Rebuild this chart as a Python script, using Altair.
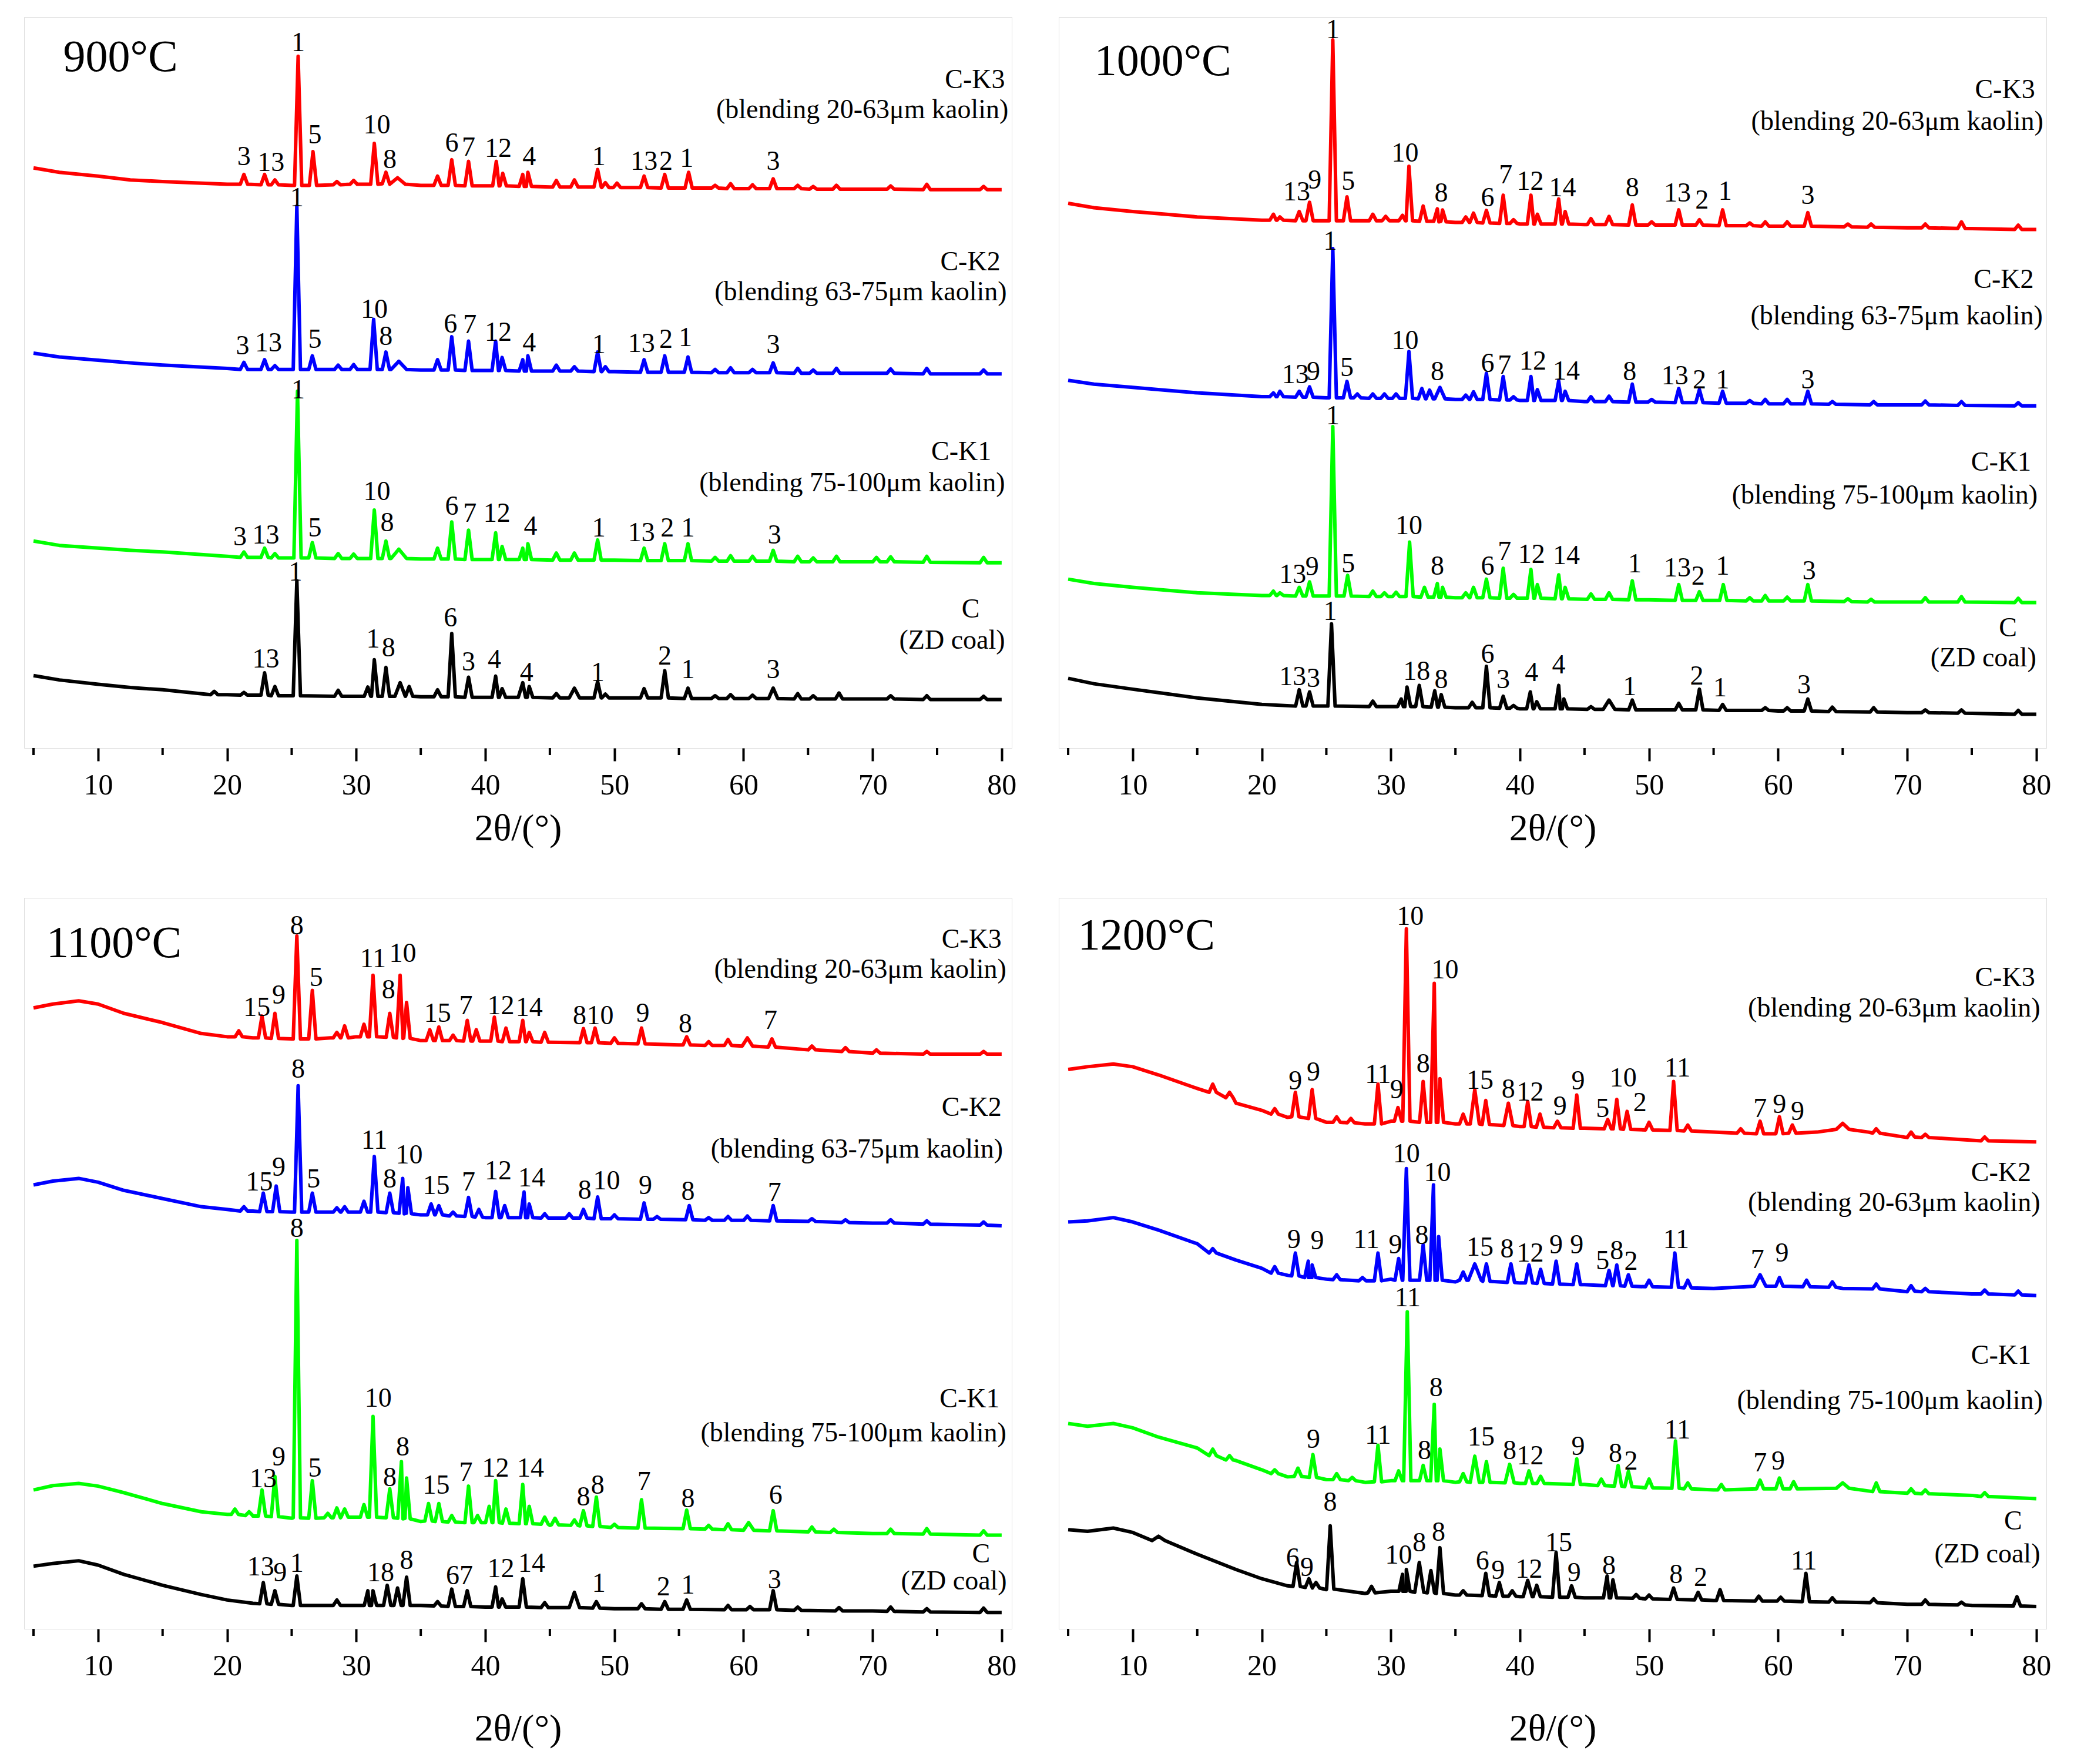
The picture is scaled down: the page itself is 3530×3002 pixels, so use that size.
import altair as alt
import pandas as pd

# ---------------- common ----------------
X_DOMAIN = [4.27, 80.78]
Y_DOMAIN = [0, 1342]
MAJOR_TICKS = [10, 20, 30, 40, 50, 60, 70, 80]
MINOR_TICKS = [5, 15, 25, 35, 45, 55, 65, 75]
SERIES = ["C", "C-K1", "C-K2", "C-K3"]
COLORS = ["#000000", "#00ff00", "#0000ff", "#ff0000"]
X_TITLE = "2θ/(°)"

# ---------------- 900 °C ----------------
BASE_900_CK3 = [(5,1065),(7,1057),(10,1050),(12.5,1043),(15,1040),(20,1035),(25,1033),(30,1035),(35,1033),(40,1032),(45,1030),(50,1029),(55,1028),(60,1027),(70,1026),(80,1025)]
PEAK_900_CK3 = [(21.3,1035,1053),(22.9,1034,1053),(23.7,1034,1043),(25.5,1033,1270),(26.65,1033,1095),(28.5,1034,1040),(29.8,1035,1042),(31.4,1035,1110),(32.3,1036,1057),(33.2,1035,1047,0.6),(36.3,1033,1050),(37.4,1033,1080),(38.7,1032,1077),(40.85,1032,1077),(41.35,1032,1055),(42.9,1031,1053),(43.3,1031,1057),(45.5,1030,1042),(46.9,1030,1043),(48.7,1030,1062),(49.3,1029,1038),(50.2,1029,1037),(52.3,1029,1050),(53.9,1028,1053),(55.75,1028,1057),(57.8,1028,1033),(59.0,1027,1036),(60.7,1027,1034),(62.3,1027,1045),(64.2,1027,1033),(65.4,1026,1031),(67.2,1026,1033),(71.4,1026,1032),(74.2,1025,1035),(78.6,1025,1031)]
LAB_900_CK3 = [(21.3,1085,"3"),(23.4,1075,"13"),(25.5,1295,"1"),(26.8,1125,"5"),(31.6,1143,"10"),(32.6,1080,"8"),(37.4,1110,"6"),(38.7,1103,"7"),(41.0,1100,"12"),(43.4,1085,"4"),(48.8,1085,"1"),(52.3,1077,"13"),(54.0,1077,"2"),(55.6,1082,"1"),(62.3,1077,"3")]

BASE_900_CK2 = [(5,725),(7,718),(10,712),(12.5,707),(15,703),(20,697),(25,695),(30,695),(35,694),(40,693),(45,692),(50,691),(60,689),(70,688),(80,687)]
PEAK_900_CK2 = [(21.3,695,708),(22.9,695,713),(23.7,695,702),(25.4,695,995),(26.6,695,720),(28.6,695,703),(29.8,695,704),(31.35,695,787),(32.3,695,727),(33.3,695,710,0.6),(36.3,694,713),(37.4,694,755),(38.7,693,747),(40.8,693,747),(41.3,693,717),(42.9,692,713),(43.3,692,720),(45.5,692,703),(46.9,692,700),(48.7,691,727),(49.3,691,700),(52.3,690,713),(53.9,690,720),(55.7,690,718),(57.8,689,695),(59.0,689,698),(60.7,689,695),(62.3,689,707),(64.2,688,697),(65.4,688,694),(67.2,688,697),(71.4,688,696),(74.2,687,697),(78.6,687,694)]
LAB_900_CK2 = [(21.2,738,"3"),(23.2,743,"13"),(25.4,1010,"1"),(26.8,750,"5"),(31.4,805,"10"),(32.3,755,"8"),(37.3,778,"6"),(38.8,777,"7"),(41.0,763,"12"),(43.4,743,"4"),(48.8,740,"1"),(52.1,742,"13"),(54.0,750,"2"),(55.5,753,"1"),(62.3,740,"3")]

BASE_900_CK1 = [(5,380),(7,372),(10,367),(12.5,363),(15,360),(20,352),(25,349),(30,348),(35,347),(40,346),(50,345),(60,343),(70,342),(80,340)]
PEAK_900_CK1 = [(21.3,350,360),(22.9,350,367),(23.7,349,357),(25.45,349,655),(26.6,349,377),(28.6,348,357),(29.8,348,356),(31.4,348,437),(32.3,348,380),(33.3,348,365,0.6),(36.3,347,367),(37.4,347,415),(38.7,346,400),(40.8,346,395),(41.3,346,370),(42.9,346,367),(43.3,346,375),(45.5,345,358),(46.9,345,358),(48.7,345,382),(52.3,344,367),(53.9,344,375),(55.7,344,375),(57.8,343,350),(59.0,343,353),(60.7,343,352),(62.3,343,363),(64.2,342,352),(65.4,342,349),(67.2,342,352),(70.3,342,350),(71.4,342,351),(74.2,341,352),(78.6,340,350)]
LAB_900_CK1 = [(21.0,387,"3"),(23.0,390,"13"),(25.5,657,"1"),(26.8,403,"5"),(31.6,470,"10"),(32.4,413,"8"),(37.4,443,"6"),(38.8,430,"7"),(40.9,430,"12"),(43.5,407,"4"),(48.8,403,"1"),(52.1,395,"13"),(54.1,403,"2"),(55.7,403,"1"),(62.4,390,"3")]

BASE_900_C = [(5,133),(7,125),(10,117),(12.5,111),(15,107),(20,98),(25,96),(30,95),(35,94),(40,93),(50,92),(60,91),(70,90),(80,89)]
PEAK_900_C = [(19.0,98,104),(21.3,97,102),(22.9,97,138),(23.7,96,113),(25.4,96,307),(28.6,95,106),(30.9,95,112),(31.4,95,162),(32.3,95,148),(33.4,95,120,0.4),(34.1,95,113),(36.3,94,107),(37.4,94,210),(38.7,93,130),(40.8,93,132),(41.3,93,109),(42.9,93,120,0.35),(43.4,93,113),(45.5,92,100),(46.9,92,110,0.4),(48.7,92,122),(49.3,92,99),(52.3,92,109),(53.9,92,142),(55.7,91,110),(57.8,91,96),(59.0,91,98),(60.7,91,97),(62.3,91,110,0.35),(64.2,90,100),(65.4,90,96),(67.4,90,101),(71.4,90,96),(74.2,89,96),(78.6,89,95)]
LAB_900_C = [(23.0,163,"13"),(25.3,323,"1"),(31.3,200,"1"),(32.5,183,"8"),(37.3,238,"6"),(38.7,158,"3"),(40.7,162,"4"),(43.2,138,"4"),(48.7,138,"1"),(53.9,168,"2"),(55.7,143,"1"),(62.3,143,"3")]

SER_900 = [(80.26,1227,"C-K3"),(80.52,1172,"(blending 20-63μm kaolin)"),(79.9,892,"C-K2"),(80.4,837,"(blending 63-75μm kaolin)"),(79.2,544,"C-K1"),(80.26,486,"(blending 75-100μm kaolin)"),(78.3,255,"C"),(80.26,197,"(ZD coal)")]
TITLE_900 = [(7.3,1268,"900°C")]

# ---------------- 1000 °C ----------------
BASE_1000_CK3 = [(5,1000),(7,992),(10,985),(12.5,980),(15,975),(20,969),(25,968),(30,968),(35,965),(40,962),(45,961),(50,960),(60,958),(70,955),(80,952)]
PEAK_1000_CK3 = [(20.9,969,980),(21.4,969,975),(22.9,968,985),(23.7,968,1002),(25.5,968,1300),(26.6,968,1012),(28.6,968,980),(29.6,968,976),(30.9,968,978),(31.4,968,1068),(32.5,967,995),(33.6,967,990),(34.0,966,988),(35.8,965,975),(36.4,965,982),(37.4,964,987),(38.7,963,1015),(39.5,963,970),(40.85,962,1015),(41.35,962,980),(43.0,962,1008),(43.5,962,985),(45.5,961,972),(46.9,961,976),(48.7,960,997),(50.2,960,966),(52.3,960,988),(53.9,960,970),(55.7,959,988),(57.8,959,964),(59.0,958,966),(60.7,958,966),(62.3,958,983),(65.4,957,962),(67.2,956,962),(71.4,955,962),(74.2,954,966),(78.6,952,960)]
LAB_1000_CK3 = [(22.7,1020,"13"),(24.1,1042,"9"),(25.5,1318,"1"),(26.7,1040,"5"),(31.1,1092,"10"),(33.9,1018,"8"),(37.5,1010,"6"),(38.9,1052,"7"),(40.8,1040,"12"),(43.3,1028,"14"),(48.7,1028,"8"),(52.2,1018,"13"),(54.1,1005,"2"),(55.9,1022,"1"),(62.3,1014,"3")]

BASE_1000_CK2 = [(5,675),(7,668),(10,662),(12.5,657),(15,652),(20,645),(25,643),(30,642),(35,640),(40,638),(45,636),(50,635),(60,632),(70,630),(80,628)]
PEAK_1000_CK2 = [(20.9,645,652),(21.4,645,655),(22.9,644,655),(23.7,644,663),(25.5,643,917),(26.6,643,673),(27.4,643,650),(28.6,642,650),(29.5,642,650),(30.4,642,650),(31.4,642,728),(32.4,641,660),(33.0,641,657),(33.8,641,662,0.4),(35.8,640,648),(36.4,640,654),(37.4,640,688),(38.7,639,682),(39.5,639,645),(40.85,638,682),(41.35,638,658),(43.0,638,674),(43.5,638,655),(45.5,636,645),(46.9,636,646),(48.7,635,668),(50.2,635,640),(52.3,634,660),(53.9,634,658),(55.7,633,655),(57.8,633,638),(59.0,632,640),(60.7,632,640),(62.3,632,655),(64.2,631,636),(67.4,630,636),(71.4,630,637),(74.2,629,636),(78.6,628,634)]
LAB_1000_CK2 = [(22.6,685,"13"),(24.0,690,"9"),(25.3,930,"1"),(26.6,698,"5"),(31.1,748,"10"),(33.6,690,"8"),(37.5,705,"6"),(38.8,702,"7"),(41.0,710,"12"),(43.6,692,"14"),(48.5,690,"8"),(52.0,683,"13"),(53.9,675,"2"),(55.7,675,"1"),(62.3,675,"3")]

BASE_1000_CK1 = [(5,310),(7,302),(10,295),(12.5,290),(15,285),(20,280),(25,279),(30,278),(35,276),(40,275),(50,272),(60,270),(70,268),(80,267)]
PEAK_1000_CK1 = [(20.9,280,288),(21.4,280,285),(22.9,279,295),(23.7,279,305),(25.5,279,590),(26.65,279,317),(28.6,278,288),(29.5,278,285),(30.4,278,286),(31.45,278,378),(32.6,277,295),(33.6,277,302),(34.0,277,295),(35.8,276,285),(36.4,276,295),(37.4,276,310),(38.7,275,330),(39.5,275,282),(40.85,275,328),(41.35,275,300),(43.0,274,318),(43.5,274,295),(45.5,273,283),(46.9,273,285),(48.7,272,307),(52.3,271,300),(53.9,271,287),(55.75,271,300),(57.8,270,276),(59.0,270,280),(60.7,270,277),(62.3,270,300),(65.4,269,274),(67.2,268,273),(71.4,268,276),(74.2,268,278),(78.6,267,275)]
LAB_1000_CK1 = [(22.4,318,"13"),(23.9,332,"9"),(25.5,610,"1"),(26.7,338,"5"),(31.4,408,"10"),(33.6,333,"8"),(37.5,333,"6"),(38.8,360,"7"),(40.9,355,"12"),(43.6,353,"14"),(48.9,338,"1"),(52.2,330,"13"),(53.8,315,"2"),(55.7,333,"1"),(62.4,325,"3")]

BASE_1000_C = [(5,128),(7,118),(10,108),(12.5,100),(15,92),(20,80),(25,77),(30,76),(35,74),(40,72),(50,70),(60,68),(70,65),(80,62)]
PEAK_1000_C = [(22.9,77,107),(23.7,77,103),(25.4,77,228),(28.6,76,86),(30.8,76,90),(31.25,76,112),(32.2,76,115),(33.4,75,105),(33.9,75,98),(36.3,74,84),(37.4,74,150),(38.7,73,95),(39.5,73,78),(40.8,72,103),(41.3,72,85),(43.0,72,115),(43.4,72,90),(45.5,71,76),(46.9,71,88,0.45),(48.7,70,88),(52.3,70,82),(53.9,70,108),(55.7,69,80),(59.0,69,74),(60.7,68,74),(62.3,68,90),(64.2,67,75),(67.4,66,74),(71.4,65,70),(74.2,64,70),(78.6,62,69)]
LAB_1000_C = [(22.4,130,"13"),(24.0,127,"3"),(25.3,250,"1"),(32.0,140,"18"),(33.9,125,"8"),(37.5,172,"6"),(38.7,125,"3"),(40.9,138,"4"),(43.0,152,"4"),(48.5,112,"1"),(53.7,132,"2"),(55.5,110,"1"),(62.0,115,"3")]

SER_1000 = [(79.9,1208,"C-K3"),(80.55,1150,"(blending 20-63μm kaolin)"),(79.8,860,"C-K2"),(80.5,793,"(blending 63-75μm kaolin)"),(79.6,524,"C-K1"),(80.1,464,"(blending 75-100μm kaolin)"),(78.5,220,"C"),(80.0,165,"(ZD coal)")]
TITLE_1000 = [(7.03,1260,"1000°C")]

# ---------------- 1100 °C ----------------
BASE_1100_CK3 = [(5,1140),(6.5,1147),(8.5,1153),(10,1147),(12,1130),(15,1113),(18,1093),(20,1087),(22,1085),(25,1083),(28,1085),(30,1087),(35,1080),(40,1079),(45,1077),(50,1075),(55,1072),(60,1070),(65,1063),(70,1057),(75,1055),(80,1055)]
PEAK_1100_CK3 = [(20.9,1087,1098),(22.7,1085,1125),(23.7,1084,1130),(25.4,1083,1272),(26.6,1083,1172),(28.5,1085,1095),(29.1,1085,1107),(30.6,1087,1110),(31.3,1087,1200),(32.6,1086,1130),(33.4,1085,1200),(33.9,1084,1150),(35.7,1080,1100),(36.4,1080,1105),(37.5,1080,1090),(38.6,1079,1117),(39.3,1079,1100),(40.7,1079,1123),(41.6,1078,1103),(42.9,1078,1117),(43.4,1078,1095),(44.6,1077,1095),(47.6,1076,1102),(48.5,1076,1103),(50.0,1075,1085),(52.1,1074,1103),(55.6,1072,1087),(57.3,1071,1078),(58.8,1071,1082),(60.3,1070,1085,0.4),(62.2,1068,1083),(65.3,1063,1070),(67.9,1060,1067),(70.3,1057,1063),(74.2,1055,1060),(78.6,1055,1060)]
LAB_1100_CK3 = [(22.3,1140,"15"),(24.0,1163,"9"),(25.4,1290,"8"),(26.9,1195,"5"),(31.3,1230,"11"),(32.5,1173,"8"),(33.6,1240,"10"),(36.3,1130,"15"),(38.5,1143,"7"),(41.2,1143,"12"),(43.4,1140,"14"),(47.3,1125,"8"),(48.9,1125,"10"),(52.2,1130,"9"),(55.5,1110,"8"),(62.1,1117,"7")]

BASE_1100_CK2 = [(5,815),(6.5,822),(8.5,827),(10,820),(12,805),(15,790),(18,775),(20,770),(22,767),(25,765),(30,765),(35,760),(40,755),(45,754),(50,753),(60,750),(70,745),(80,740)]
PEAK_1100_CK2 = [(21.3,767,775),(22.8,766,800),(23.8,766,813),(25.5,765,997),(26.6,765,800),(28.5,765,773),(29.1,765,775),(30.6,765,785),(31.4,765,867),(32.6,764,800),(33.6,763,827),(34.0,762,810),(35.8,760,780),(36.4,760,777),(37.5,758,765),(38.7,757,792),(39.5,756,770),(40.8,755,803),(41.5,755,777),(43.0,755,802),(43.4,755,780),(44.6,754,762),(46.5,754,762),(47.6,754,770),(48.7,753,793),(50.0,753,760),(52.3,752,782),(53.3,752,757),(55.8,751,777),(57.3,750,755),(58.8,750,757),(60.3,750,758),(62.3,749,777),(65.3,748,753),(67.9,746,751),(71.4,745,751),(74.2,743,749),(78.6,741,747)]
LAB_1100_CK2 = [(22.5,820,"15"),(24.0,847,"9"),(25.5,1027,"8"),(26.7,825,"5"),(31.4,897,"11"),(32.6,825,"8"),(34.1,869,"10"),(36.2,813,"15"),(38.7,820,"7"),(41.0,840,"12"),(43.6,827,"14"),(47.7,805,"8"),(49.4,822,"10"),(52.4,813,"9"),(55.7,803,"8"),(62.4,800,"7")]

BASE_1100_CK1 = [(5,255),(6.5,263),(8.5,267),(10,262),(12,250),(15,230),(18,215),(20,210),(22,207),(25,203),(30,205),(35,197),(40,195),(45,190),(50,185),(60,180),(70,175),(80,172)]
PEAK_1100_CK1 = [(20.6,210,220),(21.7,208,215),(22.7,207,255),(23.7,206,280),(25.4,204,713),(26.6,203,272),(27.8,204,212),(28.5,204,222),(29.1,205,220),(30.6,205,228),(31.3,205,390),(32.6,204,257),(33.5,203,307),(33.9,202,277),(35.6,198,230),(36.4,197,230),(37.4,196,208),(38.7,195,262),(39.4,195,208),(40.3,195,225),(40.8,195,272),(41.6,194,220),(42.9,193,265),(43.4,193,225),(44.6,192,205),(45.4,191,203),(46.9,190,200),(47.6,189,217),(48.6,188,242),(50.0,186,192),(52.1,185,237),(55.6,184,218),(57.3,183,190),(58.8,182,193),(60.4,181,195,0.4),(62.3,180,217),(65.3,178,187),(67.0,177,183),(71.4,175,183),(74.2,174,184),(78.6,172,180)]
LAB_1100_CK1 = [(22.8,275,"13"),(24.0,315,"9"),(25.4,735,"8"),(26.8,295,"5"),(31.7,423,"10"),(32.6,277,"8"),(33.6,333,"8"),(36.2,263,"15"),(38.5,287,"7"),(40.8,295,"12"),(43.5,295,"14"),(47.6,242,"8"),(48.7,263,"8"),(52.3,270,"7"),(55.7,238,"8"),(62.5,245,"6")]

BASE_1100_C = [(5,115),(6.5,120),(8.5,125),(10,117),(12,100),(15,80),(18,63),(20,53),(22,47),(25,43),(30,43),(35,43),(40,40),(45,39),(50,37),(60,35),(70,33),(80,30)]
PEAK_1100_C = [(22.8,46,85),(23.7,45,70),(25.4,43,97),(28.5,43,53),(30.9,43,70),(31.3,43,70),(32.4,43,80),(33.2,43,75),(33.9,43,95),(36.3,42,50),(37.4,41,73),(38.6,41,70),(40.8,40,77),(41.3,40,55),(42.9,40,92),(44.6,39,48),(46.9,39,67,0.4),(48.6,38,50),(52.1,37,46),(53.9,36,50),(55.6,36,53),(58.8,35,43),(60.5,35,41),(62.3,35,70),(64.2,34,40),(67.4,33,39),(71.4,32,40),(74.2,31,37),(78.6,30,38)]
LAB_1100_C = [(22.6,113,"13"),(24.1,103,"9"),(25.4,120,"1"),(31.9,103,"18"),(33.9,125,"8"),(38.0,97,"67"),(41.2,110,"12"),(43.6,120,"14"),(48.8,83,"1"),(53.8,77,"2"),(55.7,80,"1"),(62.4,90,"3")]

SER_1100 = [(80.0,1265,"C-K3"),(80.36,1210,"(blending 20-63μm kaolin)"),(80.0,957,"C-K2"),(80.1,880,"(blending 63-75μm kaolin)"),(79.85,422,"C-K1"),(80.36,359,"(blending 75-100μm kaolin)"),(79.1,137,"C"),(80.4,87,"(ZD coal)")]
TITLE_1100 = [(6.0,1258,"1100°C")]

# ---------------- 1200 °C ----------------
BASE_1200_CK3 = [(5,1027),(6.5,1032),(8.5,1037),(10,1032),(12,1017),(15,992),(18,965),(20,952),(22,939),(25,930),(28,927),(30,932),(35,927),(40,922),(45,919),(50,917),(55,912),(60,909),(63,912),(65,917),(67,912),(70,902),(75,897),(80,894)]
PEAK_1200_CK3 = [(16.2,985,1000),(17.5,975,985),(21.0,945,955),(22.6,940,985),(23.9,937,990),(25.8,930,940),(26.9,929,937),(29.0,927,1000),(30.55,932,957),(31.2,932,1285),(32.5,930,1005),(33.36,930,1185),(33.8,930,1010),(35.6,927,945),(36.5,927,990,0.35),(37.35,926,970),(39.1,924,965,0.35),(40.6,922,968),(41.55,921,945),(42.9,920,932),(44.4,919,980),(46.8,918,935),(47.5,918,972),(48.3,917,950),(50.0,916,930),(51.9,915,1005),(53.0,914,925),(57.1,910,918),(58.6,909,932),(60.1,909,940),(61.1,910,925),(65.0,917,928,0.5),(67.6,910,918),(70.3,903,912),(71.4,902,908),(76.0,896,903)]
LAB_1200_CK3 = [(31.5,1307,"10"),(34.2,1209,"10"),(22.6,1005,"9"),(24.0,1022,"9"),(29.0,1017,"11"),(30.45,989,"9"),(32.5,1037,"8"),(36.9,1007,"15"),(39.1,990,"8"),(40.8,985,"12"),(43.1,959,"9"),(44.5,1005,"9"),(46.4,955,"5"),(48.0,1011,"10"),(49.3,966,"2"),(52.2,1029,"11"),(58.6,955,"7"),(60.1,962,"9"),(61.5,949,"9")]

BASE_1200_CK2 = [(5,747),(6.5,749),(8.5,755),(10,747),(12,732),(15,707),(18,677),(20,662),(22,649),(25,642),(28,639),(30,642),(35,637),(40,635),(45,632),(50,629),(55,625),(60,629),(65,625),(70,619),(75,615),(80,612)]
PEAK_1200_CK2 = [(16.2,690,698),(21.0,653,665),(22.6,648,690),(23.6,645,675),(23.9,645,668),(25.8,641,650),(27.8,639,645),(29.0,639,690),(30.6,640,680),(31.2,640,845),(32.5,640,705),(33.3,640,815),(33.7,640,720),(35.6,640,655),(36.5,640,670,0.5),(37.4,638,670),(39.3,636,670),(40.7,635,668),(41.6,634,660),(42.8,633,675),(44.4,632,670),(46.9,630,658),(47.5,630,668),(48.4,629,650),(50.0,628,640),(52.0,627,690),(53.0,626,640),(58.6,629,650,0.45),(60.1,629,645),(62.2,628,640),(64.2,627,637),(67.6,624,633),(70.3,620,630),(71.4,619,625),(76.0,615,622),(78.6,613,620)]
LAB_1200_CK2 = [(31.2,872,"10"),(33.6,837,"10"),(22.5,714,"9"),(24.3,712,"9"),(28.1,714,"11"),(30.35,704,"9"),(32.4,722,"8"),(36.9,700,"15"),(39.0,697,"8"),(40.8,689,"12"),(42.8,704,"9"),(44.4,704,"9"),(46.4,675,"5"),(47.5,694,"8"),(48.6,674,"2"),(52.1,714,"11"),(58.4,677,"7"),(60.3,689,"9")]

BASE_1200_CK1 = [(5,377),(6.5,372),(8.5,377),(10,369),(12,352),(15,332),(18,309),(20,292),(22,279),(25,274),(28,269),(30,272),(35,269),(40,267),(45,265),(50,259),(55,255),(60,257),(65,259),(70,249),(75,245),(80,239)]
PEAK_1200_CK1 = [(16.2,318,330),(17.5,310,318),(21.0,285,292),(22.8,280,295),(23.96,278,320),(25.8,274,285),(27.0,272,278),(29.0,270,337),(30.6,272,290),(31.27,272,582),(32.5,272,300),(33.36,272,412),(33.8,272,330),(35.6,270,285),(36.5,269,317,0.35),(37.4,269,307),(39.2,268,302,0.35),(40.7,267,290),(41.6,267,280),(44.4,265,312),(46.3,263,275),(47.6,262,300),(48.4,261,289),(50.0,259,275),(52.05,258,345),(53.0,257,268),(55.6,255,265),(58.6,257,273),(60.1,257,277),(61.2,257,270),(65.0,258,268,0.5),(67.6,252,268),(70.3,249,257),(71.4,248,255),(76.0,243,250)]
LAB_1200_CK1 = [(31.3,607,"11"),(33.5,442,"8"),(24.0,347,"9"),(29.0,355,"11"),(32.6,327,"8"),(37.0,352,"15"),(39.2,327,"8"),(40.8,317,"12"),(44.5,334,"9"),(47.4,322,"8"),(48.6,307,"2"),(52.2,365,"11"),(58.6,304,"7"),(60.0,307,"9")]

BASE_1200_C = [(5,182),(6.5,179),(8.5,185),(10,177),(12,162),(15,137),(18,109),(20,92),(22,79),(25,72),(28,65),(30,69),(35,62),(40,59),(45,57),(50,55),(55,52),(60,51),(65,49),(70,45),(75,43),(80,41)]
PEAK_1200_C = [(12.0,162,170,0.5),(22.7,78,122),(23.65,76,92),(24.2,75,85),(25.3,73,189),(28.5,66,78),(30.9,69,100),(31.2,69,109),(32.2,67,122,0.35),(33.1,66,107),(33.8,65,149),(35.6,62,70),(37.35,61,102),(38.4,60,85),(39.4,60,70),(40.6,59,89,0.35),(41.3,59,80),(42.8,58,140),(44.0,58,79),(46.75,57,97),(47.2,57,90),(49.0,56,63),(50.0,55,62),(51.9,54,75),(53.8,53,67),(55.5,52,72),(58.5,51,60),(60.2,51,58),(62.15,50,102),(64.2,49,57),(67.4,48,55),(71.4,45,53),(74.2,44,49),(78.5,42,59)]
LAB_1200_C = [(25.3,232,"8"),(22.4,129,"6"),(23.5,112,"9"),(30.6,135,"10"),(32.2,157,"8"),(33.7,177,"8"),(37.1,124,"6"),(38.3,107,"9"),(40.7,109,"12"),(43.0,157,"15"),(44.2,102,"9"),(46.9,115,"8"),(52.1,99,"8"),(54.0,94,"2"),(62.0,124,"11")]

SER_1200 = [(79.9,1195,"C-K3"),(80.3,1139,"(blending 20-63μm kaolin)"),(79.6,837,"C-K2"),(80.3,782,"(blending 20-63μm kaolin)"),(79.6,502,"C-K1"),(80.5,419,"(blending 75-100μm kaolin)"),(78.9,197,"C"),(80.3,137,"(ZD coal)")]
TITLE_1200 = [(5.76,1272,"1200°C")]

# ---------------- building ----------------
W, H = 1681, 1244
FONT = "Liberation Serif"


def trace(base, peaks, w=0.28):
    """Join the read-off baseline points and peak (foot, top, foot) points."""
    spans = []
    pts = []
    for p in peaks:
        x, b, t = p[0], p[1], p[2]
        ww = p[3] if len(p) > 3 else w
        spans.append((x - ww, x + ww))
        pts += [(x - ww, b), (x, t), (x + ww, b)]
    for (x, y) in base:
        if not any(lo <= x <= hi for lo, hi in spans):
            pts.append((x, y))
    pts.sort(key=lambda q: q[0])
    return pts


def panel(series_parts, labels, ser_labels, title, title_pad):
    rows = []
    for name, base, peaks in series_parts:
        for i, (x, y) in enumerate(trace(base, peaks)):
            rows.append({"x": x, "I": y, "series": name, "i": i})
    line_df = pd.DataFrame(rows)
    lab_df = pd.DataFrame([{"x": x, "I": y, "t": t} for lst in labels for (x, y, t) in lst])
    ser_df = pd.DataFrame([{"x": x, "I": y, "t": t} for (x, y, t) in ser_labels])
    ttl_df = pd.DataFrame([{"x": x, "I": y, "t": t} for (x, y, t) in title])
    minor_df = pd.DataFrame({"x": MINOR_TICKS})

    xenc = alt.X(
        "x:Q",
        scale=alt.Scale(domain=X_DOMAIN, nice=False, zero=False),
        axis=alt.Axis(
            values=MAJOR_TICKS, format="d", title=X_TITLE, grid=False, domain=False,
            tickSize=22, tickWidth=4, tickColor="black", labelPadding=16,
            labelFontSize=50, labelFont=FONT, labelColor="black", labelFlush=False,
            titleFont=FONT, titleFontSize=64, titleFontWeight="normal",
            titleColor="black", titlePadding=title_pad,
        ),
    )
    yenc = alt.Y("I:Q", scale=alt.Scale(domain=Y_DOMAIN, nice=False, zero=False), axis=None)

    lines = alt.Chart(line_df).mark_line(strokeWidth=6, strokeJoin="round").encode(
        x=xenc, y=yenc,
        color=alt.Color("series:N", scale=alt.Scale(domain=SERIES, range=COLORS), legend=None),
        detail="series:N",
        order=alt.Order("i:Q"),
    )
    peak_txt = alt.Chart(lab_df).mark_text(
        font=FONT, fontSize=46, align="center", baseline="middle", color="black"
    ).encode(x=xenc, y=yenc, text="t:N")
    ser_txt = alt.Chart(ser_df).mark_text(
        font=FONT, fontSize=46, align="right", baseline="middle", color="black"
    ).encode(x=xenc, y=yenc, text="t:N")
    ttl_txt = alt.Chart(ttl_df).mark_text(
        font=FONT, fontSize=76, align="left", baseline="middle", color="black"
    ).encode(x=xenc, y=yenc, text="t:N")
    minor = alt.Chart(minor_df).mark_rule(color="black", strokeWidth=4).encode(
        x=xenc, y=alt.value(H), y2=alt.value(H + 12)
    )
    return alt.layer(lines, peak_txt, ser_txt, ttl_txt, minor).properties(width=W, height=H)


p900 = panel(
    [("C", BASE_900_C, PEAK_900_C), ("C-K1", BASE_900_CK1, PEAK_900_CK1),
     ("C-K2", BASE_900_CK2, PEAK_900_CK2), ("C-K3", BASE_900_CK3, PEAK_900_CK3)],
    [LAB_900_C, LAB_900_CK1, LAB_900_CK2, LAB_900_CK3], SER_900, TITLE_900, 17)
p1000 = panel(
    [("C", BASE_1000_C, PEAK_1000_C), ("C-K1", BASE_1000_CK1, PEAK_1000_CK1),
     ("C-K2", BASE_1000_CK2, PEAK_1000_CK2), ("C-K3", BASE_1000_CK3, PEAK_1000_CK3)],
    [LAB_1000_C, LAB_1000_CK1, LAB_1000_CK2, LAB_1000_CK3], SER_1000, TITLE_1000, 17)
p1100 = panel(
    [("C", BASE_1100_C, PEAK_1100_C), ("C-K1", BASE_1100_CK1, PEAK_1100_CK1),
     ("C-K2", BASE_1100_CK2, PEAK_1100_CK2), ("C-K3", BASE_1100_CK3, PEAK_1100_CK3)],
    [LAB_1100_C, LAB_1100_CK1, LAB_1100_CK2, LAB_1100_CK3], SER_1100, TITLE_1100, 50)
p1200 = panel(
    [("C", BASE_1200_C, PEAK_1200_C), ("C-K1", BASE_1200_CK1, PEAK_1200_CK1),
     ("C-K2", BASE_1200_CK2, PEAK_1200_CK2), ("C-K3", BASE_1200_CK3, PEAK_1200_CK3)],
    [LAB_1200_C, LAB_1200_CK1, LAB_1200_CK2, LAB_1200_CK3], SER_1200, TITLE_1200, 50)

chart = alt.concat(
    p900, p1000, p1100, p1200, columns=2,
    spacing={"row": 255, "column": 80}, bounds="flush",
).properties(
    padding={"left": 32, "top": 19, "right": 10, "bottom": 10},
    background="white",
).configure_view(
    stroke="black", strokeWidth=4, fill="white"
).configure_axis(
    labelFont=FONT, titleFont=FONT
).configure_text(
    font=FONT
).configure(font=FONT)

chart.save("out.html", embed_options={"renderer": "svg", "actions": False})
